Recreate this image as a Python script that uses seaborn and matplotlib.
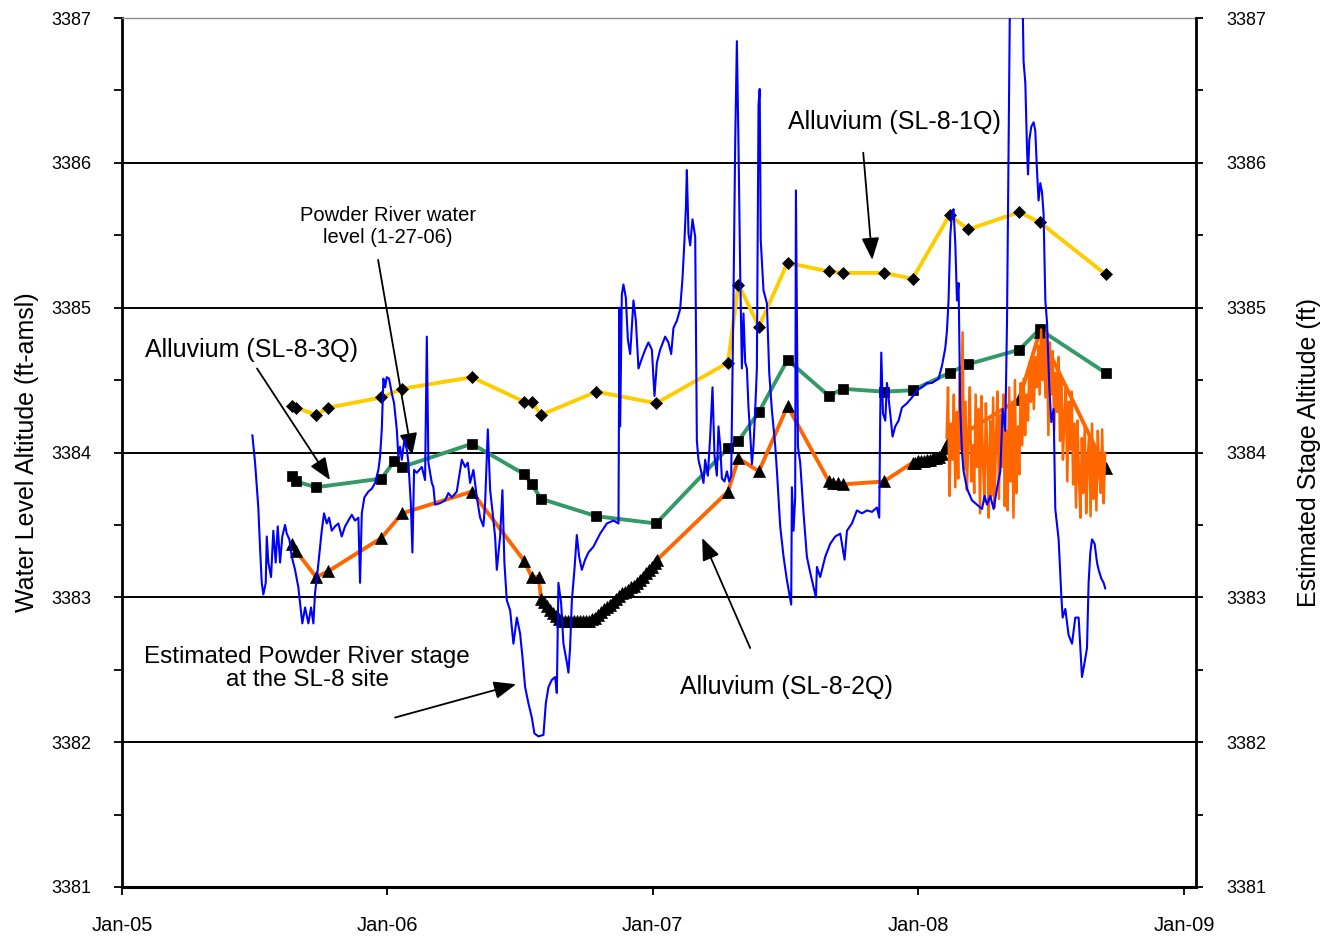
import pandas as pd
import matplotlib
matplotlib.use("Agg")
import matplotlib.pyplot as plt
import matplotlib.dates as mdates
from matplotlib.ticker import MultipleLocator
import seaborn as sns

# ---------------------------------------------------------------------------
# Data: times are days since 1 Jan 2005, levels in ft above mean sea level
# ---------------------------------------------------------------------------
START = pd.Timestamp("2005-01-01")

# Alluvium well SL-8-1Q (manual measurements)
days_1q = [233.5, 239.4, 266.9, 283.8, 356.7, 385.2, 481.1, 553.4, 563.6, 576.4,
           652.5, 734.6, 833.3, 847.8, 875.9, 915.3, 972.2, 990.9, 1047.9, 1087.2,
           1138.1, 1163.8, 1234.0, 1261.9, 1352.7]
level_1q = [3384.32, 3384.31, 3384.26, 3384.31, 3384.38, 3384.44, 3384.52, 3384.35, 3384.35, 3384.26,
            3384.42, 3384.34, 3384.62, 3385.16, 3384.87, 3385.31, 3385.25, 3385.24, 3385.24, 3385.20,
            3385.64, 3385.54, 3385.66, 3385.59, 3385.23]

# Alluvium well SL-8-3Q (manual measurements)
days_3q = [233.5, 239.4, 266.9, 356.7, 374.6, 385.2, 481.1, 553.4, 563.6, 576.4,
           652.5, 734.6, 833.3, 847.8, 875.9, 915.3, 972.2, 990.9, 1047.9, 1087.2,
           1138.1, 1163.8, 1234.0, 1261.9, 1352.7]
level_3q = [3383.84, 3383.80, 3383.76, 3383.82, 3383.94, 3383.90, 3384.06, 3383.85, 3383.78, 3383.68,
            3383.56, 3383.51, 3384.03, 3384.08, 3384.28, 3384.64, 3384.39, 3384.44, 3384.42, 3384.43,
            3384.55, 3384.61, 3384.71, 3384.85, 3384.55]

# Alluvium well SL-8-2Q (manual and recorder readings)
days_2q = [233.5, 239.4, 266.9, 283.8, 356.7, 385.2, 481.1, 553.4, 563.6, 573.0,
           576.4, 580.5, 584.7, 588.8, 592.9, 597.1, 601.2, 605.3, 609.4, 613.6,
           617.7, 621.8, 626.0, 630.1, 634.2, 638.3, 642.5, 646.6, 650.7, 654.9,
           659.0, 663.1, 667.3, 671.4, 675.5, 679.6, 683.8, 687.9, 692.0, 696.2,
           700.3, 704.4, 708.5, 712.7, 716.8, 720.9, 725.1, 729.2, 733.3, 736.1,
           833.3, 847.8, 875.9, 915.3, 972.2, 978.2, 985.1, 990.9, 1047.9, 1087.2,
           1090.9, 1095.0, 1099.2, 1103.3, 1107.4, 1111.6, 1115.7, 1119.8, 1123.9, 1128.1,
           1132.2, 1134.9, 1234.0, 1261.9, 1352.7]
level_2q = [3383.37, 3383.32, 3383.14, 3383.18, 3383.41, 3383.58, 3383.73, 3383.25, 3383.14, 3383.14,
            3382.99, 3382.97, 3382.94, 3382.91, 3382.89, 3382.87, 3382.85, 3382.84, 3382.84, 3382.84,
            3382.84, 3382.84, 3382.84, 3382.84, 3382.84, 3382.84, 3382.84, 3382.85, 3382.86, 3382.88,
            3382.90, 3382.92, 3382.93, 3382.95, 3382.97, 3382.99, 3383.01, 3383.03, 3383.04, 3383.05,
            3383.07, 3383.08, 3383.10, 3383.12, 3383.14, 3383.17, 3383.19, 3383.21, 3383.24, 3383.26,
            3383.73, 3383.96, 3383.87, 3384.32, 3383.80, 3383.79, 3383.79, 3383.78, 3383.80, 3383.93,
            3383.93, 3383.94, 3383.94, 3383.94, 3383.95, 3383.95, 3383.96, 3383.96, 3383.97, 3383.99,
            3384.03, 3384.06, 3384.37, 3384.83, 3383.89]

# SL-8-2Q pressure-transducer record, one reading every second day from 9 Feb 2008
logger_2q_start = "2008-02-09"
logger_2q_level = [
    3384.10, 3384.45, 3383.70, 3384.20, 3383.95, 3384.40, 3383.76, 3384.28,
    3383.82, 3384.55, 3384.02, 3384.83, 3383.88,
    3384.35, 3383.74, 3384.10, 3384.45, 3383.80, 3384.05, 3383.72, 3384.40, 3383.90, 3384.30,
    3383.58, 3384.39, 3383.95, 3383.66, 3384.34, 3384.00, 3383.55, 3384.22, 3383.70, 3384.38,
    3383.62, 3384.10, 3384.42, 3383.68, 3384.26, 3383.90, 3384.40, 3383.63, 3384.15, 3383.60,
    3384.45, 3383.80, 3384.32, 3383.55, 3384.50, 3383.72, 3384.18, 3383.85,
    3384.48, 3384.05, 3384.51, 3384.12, 3384.40,
    3384.22, 3384.62, 3384.35, 3384.68, 3384.30, 3384.66, 3384.45, 3384.74,
    3384.40, 3384.85, 3384.50, 3384.78, 3384.38, 3384.84,
    3384.12, 3384.76, 3384.40, 3384.70, 3384.15, 3384.55, 3384.28, 3384.66, 3384.08,
    3384.52, 3383.95, 3384.25, 3384.45, 3383.80, 3384.35, 3384.02, 3384.42, 3383.78, 3384.20,
    3383.62, 3384.22, 3383.85, 3383.55, 3384.10, 3383.72, 3384.18, 3383.58, 3383.95, 3384.12,
    3383.56, 3384.20, 3383.68, 3384.02, 3383.60, 3384.15, 3383.85, 3383.72, 3384.16, 3383.65,
    3384.00]

# Estimated Powder River stage at the SL-8 site
stage_days = [
    179.3, 183.0, 187.5, 189.8, 192.2, 194.4, 197.7, 199.1, 201.3, 205.0,
    208.1, 211.4, 214.2, 217.4, 220.5, 224.2, 226.6, 230.2, 233.5, 238.0,
    242.5, 244.9, 248.0, 251.8, 256.3, 260.0, 263.2, 265.5, 269.2, 272.4,
    274.7, 277.9, 281.6, 284.8, 288.5, 293.0, 297.6, 302.2, 306.8, 311.3,
    316.0, 320.5, 325.1, 327.4, 329.8, 333.3, 338.8, 343.5, 348.1, 352.6,
    354.9, 357.3, 359.5, 361.8, 364.1, 367.3, 371.0, 374.2, 377.9, 380.1,
    382.4, 384.8, 388.4, 391.7, 393.9, 397.2, 399.4, 401.7, 405.4, 412.3,
    416.8, 419.2, 421.4, 426.1, 428.3, 430.6, 437.5, 444.4, 448.9, 453.6,
    460.4, 467.3, 471.9, 475.6, 478.7, 483.3, 488.0, 492.5, 497.0, 499.4,
    503.1, 506.3, 509.4, 513.1, 515.5, 520.0, 523.2, 525.9, 529.2, 533.8,
    538.3, 543.0, 547.5, 550.7, 554.4, 558.9, 563.6, 567.2, 572.7, 579.6,
    582.9, 586.5, 591.1, 595.7, 598.0, 600.2, 603.9, 607.1, 611.8, 614.0,
    616.3, 618.7, 622.2, 625.5, 628.7, 632.4, 636.9, 641.5, 648.4, 657.6,
    666.8, 675.9, 682.8, 684.1, 685.1, 687.4, 689.6, 692.9, 695.7, 698.9,
    703.4, 706.7, 710.3, 715.0, 719.5, 724.0, 728.7, 732.3, 735.6, 740.1,
    747.0, 751.5, 755.3, 758.4, 763.1, 767.6, 770.8, 773.5, 775.5, 776.8,
    779.1, 781.4, 784.6, 788.3, 790.6, 792.8, 796.5, 799.7, 802.0, 805.7,
    808.9, 812.1, 814.8, 818.1, 820.3, 822.7, 825.0, 828.6, 831.9, 835.0,
    837.8, 841.0, 843.3, 845.6, 847.8, 850.2, 852.5, 854.7, 857.1, 859.4,
    861.6, 863.9, 866.3, 868.5, 870.8, 873.1, 875.4, 877.0, 878.4, 882.2,
    886.9, 890.1, 893.8, 898.3, 900.7, 902.9, 905.2, 909.8, 914.4, 917.6,
    920.3, 921.3, 923.5, 925.8, 926.8, 929.6, 932.7, 937.3, 941.9, 946.5,
    951.0, 954.3, 955.7, 960.2, 967.1, 974.0, 980.9, 987.8, 993.7, 997.0,
    1003.8, 1010.7, 1017.6, 1024.5, 1031.4, 1038.2, 1041.4, 1042.8, 1044.2, 1046.5,
    1049.7, 1052.0, 1054.2, 1056.5, 1059.7, 1063.4, 1068.0, 1072.6, 1079.5, 1086.4,
    1093.3, 1100.1, 1107.0, 1113.9, 1123.0, 1127.7, 1132.2, 1134.5, 1136.7, 1139.1,
    1141.4, 1143.6, 1146.0, 1148.3, 1150.5, 1152.8, 1155.2, 1157.4, 1162.1, 1168.9,
    1175.8, 1182.7, 1186.3, 1189.6, 1194.1, 1198.7, 1203.3, 1207.9, 1211.1, 1214.7,
    1217.1, 1219.3, 1221.6, 1237.7, 1239.9, 1242.3, 1244.6, 1246.0, 1247.8, 1250.5,
    1253.7, 1256.0, 1258.3, 1260.5, 1262.9, 1265.2, 1267.4, 1269.8, 1272.1, 1275.3,
    1278.0, 1281.2, 1283.5, 1288.1, 1291.8, 1293.6, 1297.3, 1301.8, 1306.5, 1311.0,
    1315.6, 1317.9, 1320.2, 1323.8, 1327.1, 1329.3, 1331.7, 1334.0, 1337.6, 1340.9,
    1343.1, 1346.8, 1350.0, 1352.3]
stage_level = [
    3384.12, 3383.93, 3383.62, 3383.35, 3383.10, 3383.02, 3383.10, 3383.42, 3383.24, 3383.14,
    3383.46, 3383.24, 3383.49, 3383.24, 3383.42, 3383.50, 3383.44, 3383.40, 3383.28, 3383.19,
    3383.07, 3382.96, 3382.82, 3382.93, 3382.82, 3382.93, 3382.82, 3383.03, 3383.19, 3383.35,
    3383.46, 3383.58, 3383.51, 3383.55, 3383.46, 3383.49, 3383.51, 3383.42, 3383.49, 3383.53,
    3383.57, 3383.53, 3383.55, 3383.10, 3383.58, 3383.69, 3383.73, 3383.75, 3383.79, 3383.88,
    3383.97, 3384.16, 3384.51, 3384.45, 3384.52, 3384.51, 3384.41, 3384.34, 3384.16, 3383.97,
    3384.04, 3383.95, 3384.09, 3384.02, 3383.93, 3383.65, 3383.31, 3383.88, 3383.86, 3383.90,
    3383.81, 3384.80, 3383.93, 3383.79, 3383.76, 3383.64, 3383.65, 3383.67, 3383.72, 3383.69,
    3383.73, 3383.95, 3383.90, 3383.93, 3383.79, 3383.88, 3383.69, 3383.55, 3383.49, 3383.65,
    3384.16, 3383.74, 3383.60, 3383.42, 3383.19, 3383.42, 3383.74, 3383.24, 3382.98, 3382.91,
    3382.68, 3382.86, 3382.75, 3382.59, 3382.38, 3382.27, 3382.17, 3382.06, 3382.04, 3382.05,
    3382.27, 3382.38, 3382.43, 3382.45, 3382.34, 3383.10, 3382.96, 3382.68, 3382.55, 3382.48,
    3382.66, 3382.98, 3383.19, 3383.43, 3383.28, 3383.19, 3383.26, 3383.31, 3383.35, 3383.44,
    3383.51, 3383.53, 3383.51, 3385.00, 3384.18, 3385.09, 3385.16, 3385.07, 3384.78, 3384.68,
    3385.05, 3384.91, 3384.58, 3384.65, 3384.71, 3384.76, 3384.71, 3384.39, 3384.62, 3384.71,
    3384.80, 3384.76, 3384.68, 3384.86, 3384.91, 3384.99, 3385.20, 3385.46, 3385.69, 3385.95,
    3385.51, 3385.43, 3385.61, 3385.49, 3384.08, 3383.95, 3383.87, 3383.79, 3383.95, 3383.84,
    3384.11, 3384.45, 3383.98, 3383.84, 3384.18, 3384.05, 3383.82, 3383.80, 3383.87, 3383.80,
    3383.84, 3385.09, 3386.14, 3386.84, 3386.14, 3385.23, 3384.58, 3384.96, 3384.62, 3384.58,
    3384.31, 3384.13, 3383.92, 3384.05, 3384.29, 3384.58, 3386.40, 3386.51, 3385.47, 3385.12,
    3385.03, 3384.55, 3384.29, 3384.05, 3383.87, 3383.69, 3383.49, 3383.28, 3383.12, 3383.03,
    3382.95, 3383.76, 3383.46, 3383.69, 3385.81, 3384.04, 3383.93, 3383.58, 3383.28, 3383.17,
    3383.07, 3383.00, 3383.21, 3383.14, 3383.28, 3383.37, 3383.42, 3383.44, 3383.26, 3383.46,
    3383.51, 3383.60, 3383.58, 3383.60, 3383.59, 3383.62, 3383.55, 3384.27, 3384.69, 3384.27,
    3384.22, 3384.48, 3384.38, 3384.27, 3384.11, 3384.18, 3384.22, 3384.31, 3384.34, 3384.38,
    3384.43, 3384.45, 3384.48, 3384.48, 3384.51, 3384.60, 3384.72, 3384.84, 3385.05, 3385.50,
    3385.65, 3385.68, 3385.44, 3385.05, 3385.17, 3384.30, 3384.00, 3383.87, 3383.75, 3383.67,
    3383.64, 3383.61, 3383.70, 3383.64, 3383.70, 3383.61, 3383.75, 3383.87, 3384.30, 3384.15,
    3384.90, 3386.10, 3387.40, 3387.40, 3386.70, 3386.55, 3386.10, 3385.92, 3386.16, 3386.25,
    3386.28, 3386.22, 3385.95, 3385.74, 3385.86, 3385.80, 3385.65, 3385.05, 3384.90, 3384.45,
    3384.21, 3384.30, 3383.61, 3383.40, 3383.01, 3382.86, 3382.92, 3382.74, 3382.68, 3382.86,
    3382.86, 3382.65, 3382.45, 3382.55, 3382.65, 3383.10, 3383.31, 3383.40, 3383.37, 3383.24,
    3383.19, 3383.13, 3383.10, 3383.06]


def to_dates(days):
    return START + pd.to_timedelta(days, unit="D")


def day(d):
    return START + pd.Timedelta(days=d)


# ---------------------------------------------------------------------------
# Figure
# ---------------------------------------------------------------------------
sns.set_theme(style="white")
plt.rcParams["font.family"] = ["Liberation Sans", "DejaVu Sans"]

fig = plt.figure(figsize=(13.23, 9.39), dpi=100)
ax = fig.add_axes([0.0922, 0.0554, 0.8118, 0.9254])

GOLD = "#FFCC00"
GREEN = "#339966"
ORANGE = "#FF6600"
BLUE = "#0000FF"

sns.lineplot(x=to_dates(days_1q), y=level_1q, ax=ax, color=GOLD, lw=2.8,
             marker="D", markersize=5.8, markerfacecolor="black",
             markeredgecolor="black", markeredgewidth=0.5,
             sort=False, estimator=None, zorder=3)
sns.lineplot(x=to_dates(days_3q), y=level_3q, ax=ax, color=GREEN, lw=2.8,
             marker="s", markersize=7, markerfacecolor="black",
             markeredgecolor="black", markeredgewidth=0.5,
             sort=False, estimator=None, zorder=3)
sns.lineplot(x=to_dates(days_2q), y=level_2q, ax=ax, color=ORANGE, lw=2.8,
             marker="^", markersize=8.5, markerfacecolor="black",
             markeredgecolor="black", markeredgewidth=0.5,
             sort=False, estimator=None, zorder=3)

logger_dates = pd.date_range(logger_2q_start, periods=len(logger_2q_level), freq="2D")
sns.lineplot(x=logger_dates, y=logger_2q_level, ax=ax, color=ORANGE, lw=1.8,
             sort=False, estimator=None, zorder=4)

# River stage on the secondary axis
ax2 = ax.twinx()
sns.lineplot(x=to_dates(stage_days), y=stage_level, ax=ax2, color=BLUE, lw=1.5,
             sort=False, estimator=None, zorder=5)

# ---------------------------------------------------------------------------
# Axes styling
# ---------------------------------------------------------------------------
for a in (ax, ax2):
    a.set_ylim(3381, 3387)
    a.set_xlim(START, day(1477))
    a.yaxis.set_major_locator(MultipleLocator(1))
    a.yaxis.set_minor_locator(MultipleLocator(0.5))
    a.set_xlabel("")

ax.xaxis.set_major_locator(mdates.YearLocator())
ax.xaxis.set_major_formatter(mdates.DateFormatter("%b-%y"))

ax.yaxis.grid(True, which="major", color="black", lw=1.4)
ax.xaxis.grid(False)
ax.set_axisbelow(True)

ax.spines["left"].set_color("black")
ax.spines["left"].set_linewidth(2.0)
ax.spines["bottom"].set_color("black")
ax.spines["bottom"].set_linewidth(2.2)
ax.spines["top"].set_color("#8c8c8c")
ax.spines["top"].set_linewidth(1.0)
ax.spines["right"].set_visible(False)
for side in ("left", "top", "bottom"):
    ax2.spines[side].set_visible(False)
ax2.spines["right"].set_color("black")
ax2.spines["right"].set_linewidth(2.0)

ax.tick_params(axis="y", which="both", direction="out", left=True, length=6,
               width=1.3, color="black", labelsize=13, pad=16, labelcolor="black")
ax.tick_params(axis="x", which="major", direction="out", bottom=True, length=6,
               width=1.3, color="black", labelsize=14.5, pad=15, labelcolor="black")
ax2.tick_params(axis="y", which="both", direction="out", right=True, length=5,
                width=1.3, color="black", labelsize=13, pad=17, labelcolor="black")

ax.set_ylabel("Water Level Altitude (ft-amsl)", fontsize=18, color="black", labelpad=9)
ax2.set_ylabel("Estimated Stage Altitude (ft)", fontsize=18, color="black", labelpad=22)

# ---------------------------------------------------------------------------
# Annotations
# ---------------------------------------------------------------------------
arrow = dict(arrowstyle="-|>,head_length=0.75,head_width=0.3", color="black",
             lw=1.3, shrinkA=0, shrinkB=0, mutation_scale=18)

ax.text(day(365.9), 3385.56, "Powder River water\nlevel (1-27-06)", fontsize=14.5,
        ha="center", va="center", linespacing=1.25, color="black", zorder=6)
ax.annotate("", xy=(day(399.0), 3383.98), xytext=(day(352.2), 3385.33),
            arrowprops=arrow, zorder=6)

ax.text(day(31.6), 3384.71, "Alluvium (SL-8-3Q)", fontsize=18, ha="left",
        va="center", color="black", zorder=6)
ax.annotate("", xy=(day(286.1), 3383.81), xytext=(day(185.7), 3384.58),
            arrowprops=arrow, zorder=6)

ax.text(day(916.2), 3386.28, "Alluvium (SL-8-1Q)", fontsize=18, ha="left",
        va="center", color="black", zorder=6)
ax.annotate("", xy=(day(1031.8), 3385.33), xytext=(day(1019.4), 3386.07),
            arrowprops=arrow, zorder=6)

ax.text(day(254.5), 3382.51, "Estimated Powder River stage\nat the SL-8 site",
        fontsize=17.5, ha="center", va="center", linespacing=1.05, color="black", zorder=6)
ax.annotate("", xy=(day(542.0), 3382.40), xytext=(day(375.6), 3382.17),
            arrowprops=arrow, zorder=6)

ax.text(day(767.6), 3382.38, "Alluvium (SL-8-2Q)", fontsize=18, ha="left",
        va="center", color="black", zorder=6)
ax.annotate("", xy=(day(797.9), 3383.41), xytext=(day(863.9), 3382.65),
            arrowprops=arrow, zorder=6)

fig.savefig("out.png", dpi=100, facecolor="white")
